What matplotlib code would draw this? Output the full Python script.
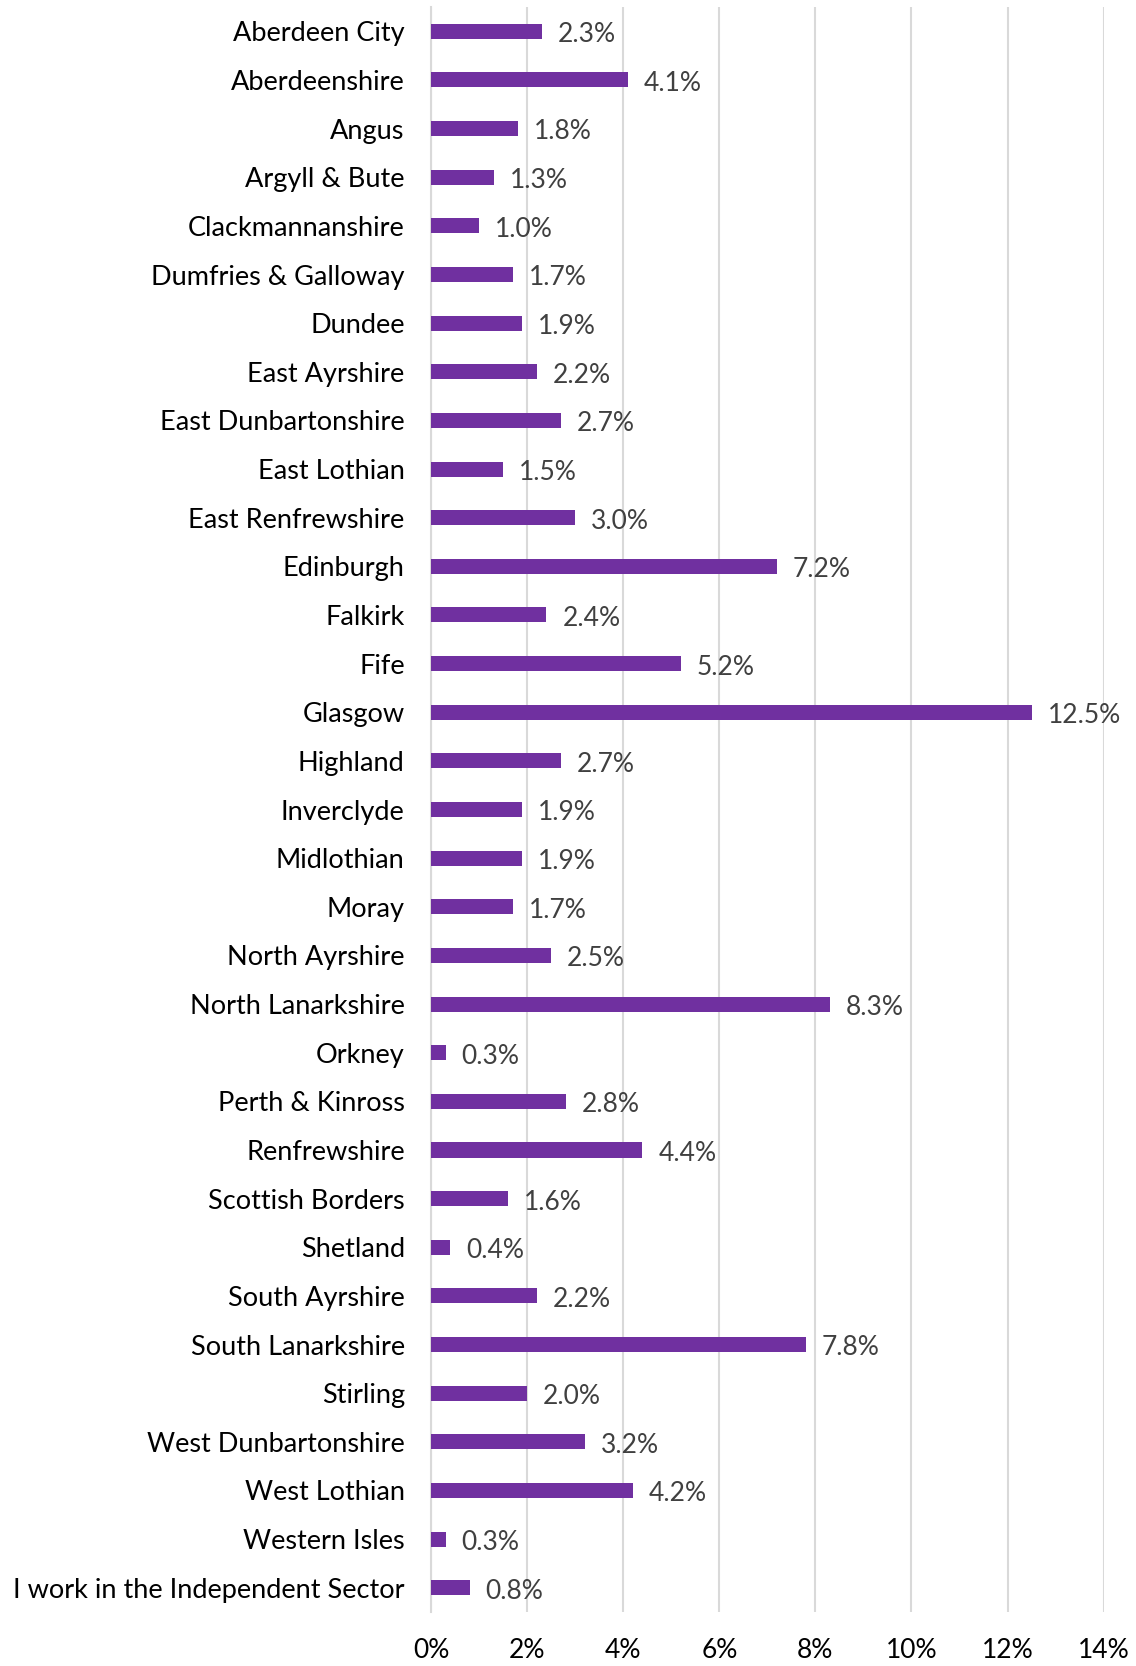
import matplotlib.pyplot as plt
from matplotlib.ticker import FuncFormatter

areas = [
    "Aberdeen City", "Aberdeenshire", "Angus", "Argyll & Bute", "Clackmannanshire",
    "Dumfries & Galloway", "Dundee", "East Ayrshire", "East Dunbartonshire",
    "East Lothian", "East Renfrewshire", "Edinburgh", "Falkirk", "Fife", "Glasgow",
    "Highland", "Inverclyde", "Midlothian", "Moray", "North Ayrshire",
    "North Lanarkshire", "Orkney", "Perth & Kinross", "Renfrewshire",
    "Scottish Borders", "Shetland", "South Ayrshire", "South Lanarkshire",
    "Stirling", "West Dunbartonshire", "West Lothian", "Western Isles",
    "I work in the Independent Sector",
]
share = [
    2.3, 4.1, 1.8, 1.3, 1.0, 1.7, 1.9, 2.2, 2.7, 1.5, 3.0, 7.2, 2.4, 5.2, 12.5,
    2.7, 1.9, 1.9, 1.7, 2.5, 8.3, 0.3, 2.8, 4.4, 1.6, 0.4, 2.2, 7.8, 2.0, 3.2,
    4.2, 0.3, 0.8,
]
xticks = [0, 2, 4, 6, 8, 10, 12, 14]

plt.rcParams['font.family'] = ['Lato', 'DejaVu Sans']

fig = plt.figure(figsize=(11.36, 16.66), dpi=100)
ax = fig.add_axes([0.3795, 0.0324, 0.592, 0.9634])

ypos = list(range(len(areas)))
ax.barh(ypos, share, height=0.31, color='#7030A0', zorder=3)
for y, v in zip(ypos, share):
    ax.text(v + 0.33, y + 0.07, f"{v:.1f}%", va='center', ha='left',
            fontsize=19, color='#404040', zorder=4)

ax.set_ylim(len(areas) - 0.5, -0.5)
ax.set_xlim(0, 14)
ax.set_yticks(ypos)
ax.set_yticklabels(areas, fontsize=19.5, color='#000000')
ax.set_xticks(xticks)
ax.xaxis.set_major_formatter(FuncFormatter(lambda v, _: f"{v:.0f}%"))
ax.tick_params(axis='x', labelsize=19, labelcolor='#000000', length=0, pad=19)
ax.tick_params(axis='y', length=0, pad=19)

ax.grid(axis='x', color='#D9D9D9', linewidth=1.5, zorder=0)
for side in ['top', 'right', 'bottom']:
    ax.spines[side].set_visible(False)
ax.spines['left'].set_color('#D9D9D9')
ax.spines['left'].set_linewidth(1.5)

fig.savefig('out.png', dpi=100)
